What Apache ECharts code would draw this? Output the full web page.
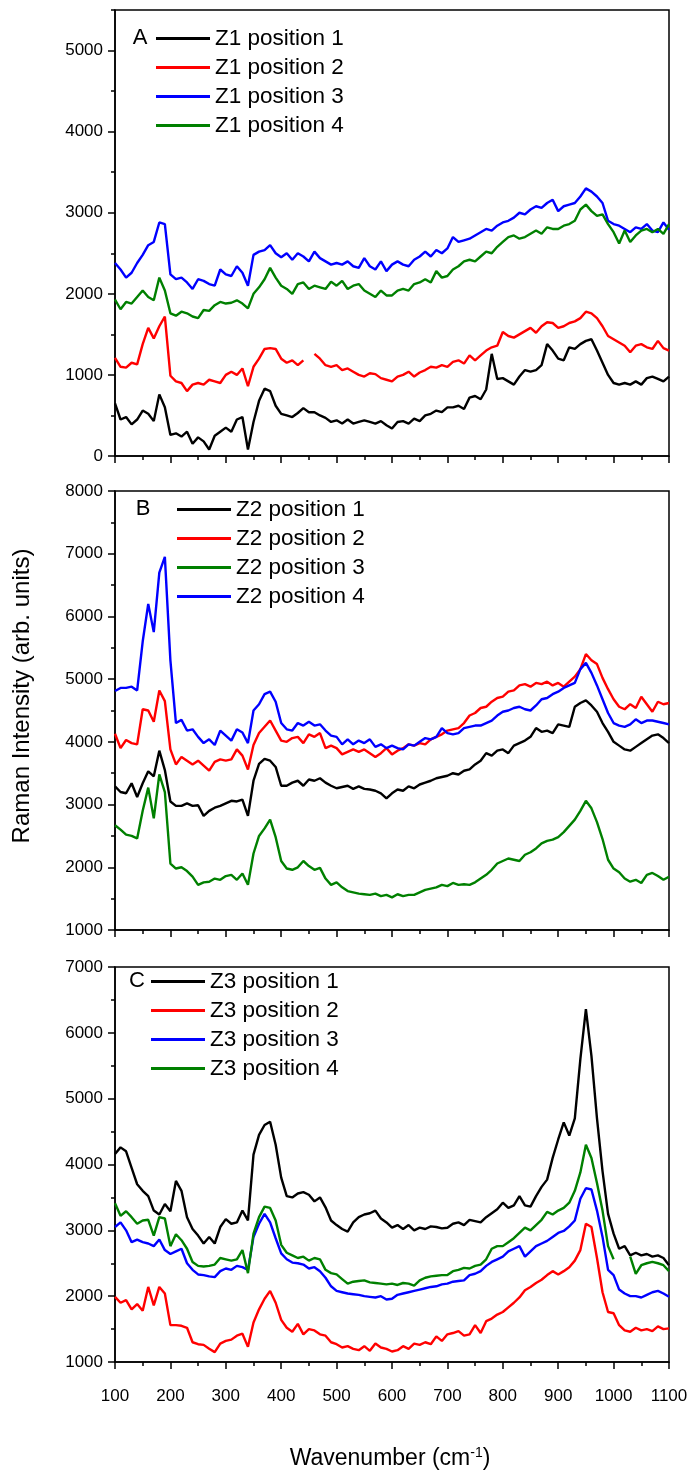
<!DOCTYPE html>
<html>
<head>
<meta charset="utf-8">
<script src="https://cdn.jsdelivr.net/npm/echarts@6/dist/echarts.min.js"></script>
<style>
  html, body { margin: 0; padding: 0; background: #fff; }
  #chart { width: 692px; height: 1479px; }
</style>
</head>
<body>
<div id="chart"></div>
<script>
// Raman spectra, one value every 10 cm-1 from 100 to 1100 cm-1
const X_START = 100;
const X_STEP = 10;

// Zone 1
const z1p1 = [
  650, 450, 480, 390, 450, 560, 520, 430, 760, 600,
  260, 280, 240, 300, 150, 230, 180, 80, 250, 300,
  350, 300, 450, 480, 80, 420, 680, 830, 800, 620,
  520, 500, 480, 530, 590, 540, 540, 500, 470, 420,
  440, 400, 450, 400, 420, 440, 420, 400, 430, 380,
  340, 420, 430, 400, 460, 430, 500, 520, 560, 540,
  600, 600, 620, 580, 720, 740, 700, 820, 1260, 950,
  960, 920, 880, 980, 1060, 1040, 1060, 1120, 1380, 1300,
  1200, 1180, 1340, 1320, 1380, 1420, 1440, 1300, 1150, 1000,
  900, 880, 900, 880, 920, 880, 960, 980, 950, 920,
  980
];
const z1p2 = [
  1210, 1100, 1090, 1150, 1130, 1380, 1580, 1450, 1600, 1720,
  990, 920, 900, 800, 880, 900, 880, 940, 920, 900,
  1000, 1040, 1000, 1080, 860, 1100, 1200, 1320, 1330, 1320,
  1200, 1150, 1180, 1120, 1180, null, 1260, 1200, 1120, 1100,
  1120, 1060, 1080, 1040, 1000, 980, 1020, 1010, 960, 940,
  920, 980, 1000, 1040, 980, 1030, 1060, 1100, 1090, 1120,
  1100, 1160, 1180, 1140, 1240, 1180, 1240, 1300, 1340, 1360,
  1530, 1480, 1460, 1500, 1540, 1580, 1520, 1600, 1650, 1640,
  1580, 1600, 1640, 1660, 1700, 1780, 1760, 1700, 1600, 1480,
  1440, 1400, 1360, 1280, 1360, 1380, 1340, 1320, 1420, 1330,
  1300
];
const z1p3 = [
  2380, 2300, 2200, 2260, 2380, 2480, 2600, 2640, 2880, 2860,
  2240, 2180, 2200, 2140, 2060, 2180, 2160, 2120, 2100, 2300,
  2240, 2220, 2340, 2260, 2100, 2480, 2520, 2540, 2600, 2500,
  2450, 2500, 2420, 2500, 2460, 2400, 2520, 2440, 2400, 2360,
  2380, 2360, 2400, 2340, 2320, 2440, 2340, 2300, 2400, 2280,
  2360, 2400, 2360, 2340, 2420, 2460, 2520, 2460, 2540, 2500,
  2560, 2700, 2640, 2660, 2680, 2720, 2760, 2800, 2780, 2840,
  2880, 2900, 2940, 3000, 2980, 3040, 3080, 3060, 3120, 3160,
  3020, 3080, 3100, 3120, 3200, 3300, 3260, 3200, 3120, 2900,
  2860, 2840, 2800, 2760, 2820, 2800, 2860, 2780, 2760, 2880,
  2790
];
const z1p4 = [
  1930, 1810, 1900, 1880, 1960, 2040, 1960, 1920, 2200, 2040,
  1760, 1730, 1780, 1760, 1720, 1700, 1800, 1790, 1860, 1900,
  1880, 1890, 1920, 1880, 1820, 2000, 2080, 2180, 2320, 2200,
  2100, 2060, 2000, 2120, 2140, 2060, 2100, 2080, 2060, 2150,
  2100, 2160, 2060, 2100, 2120, 2040, 2000, 1960, 2040, 1980,
  1980, 2040, 2060, 2040, 2120, 2140, 2180, 2140, 2280, 2200,
  2220, 2300, 2340, 2400, 2420, 2400, 2460, 2520, 2500, 2580,
  2640, 2700, 2720, 2680, 2700, 2740, 2780, 2740, 2820, 2800,
  2800, 2840, 2860, 2900, 3040, 3100, 3020, 2960, 2980, 2860,
  2760, 2620, 2780, 2640, 2720, 2780, 2800, 2760, 2800, 2740,
  2860
];

// Zone 2
const z2p1 = [
  3290, 3200, 3180, 3340, 3120, 3340, 3530, 3450, 3860, 3550,
  3050, 2980, 2980, 3020, 2980, 2990, 2820, 2900, 2950, 2980,
  3020, 3060, 3050, 3080, 2820, 3380, 3650, 3730, 3700, 3600,
  3300, 3300, 3350, 3380, 3300, 3400, 3380, 3420, 3350, 3300,
  3260, 3280, 3300, 3250, 3290, 3250, 3240, 3220, 3180, 3100,
  3180, 3240, 3220, 3290, 3260, 3320, 3350, 3380, 3420, 3440,
  3460, 3500, 3480, 3540, 3560, 3640, 3700, 3820, 3780, 3860,
  3880, 3820, 3940, 3980, 4020, 4080, 4220, 4160, 4180, 4140,
  4280, 4260, 4240, 4560, 4620, 4660, 4580, 4480, 4300, 4160,
  4000, 3940, 3880, 3860, 3920, 3980, 4040, 4100, 4120, 4060,
  3980
];
const z2p2 = [
  4130, 3900, 4030, 3980, 3960, 4520, 4500, 4320, 4820, 4650,
  3880, 3640, 3760, 3700, 3640, 3700, 3620, 3540, 3680, 3720,
  3700, 3720, 3880, 3780, 3560, 3950, 4140, 4240, 4340, 4180,
  4020, 4000, 4060, 4080, 3980, 4120, 4080, 4140, 3900, 3940,
  3900, 3800, 3840, 3880, 3840, 3880, 3820, 3760, 3820, 3900,
  3800, 3860, 3900, 3960, 3940, 3980, 3960, 4040, 4080, 4120,
  4180, 4200, 4220, 4300, 4420, 4460, 4540, 4560, 4640, 4700,
  4720, 4800, 4820, 4900, 4920, 4880, 4940, 4920, 4960, 4900,
  4940, 4880, 4960, 5040, 5160, 5400, 5300, 5240, 5020, 4840,
  4680, 4560, 4520, 4600, 4540, 4720, 4600, 4480, 4640, 4600,
  4620
];
const z2p3 = [
  2670, 2600, 2520, 2500, 2460, 2900, 3270, 2780, 3480, 3200,
  2060, 1980, 2000, 1940, 1850, 1720, 1760, 1770, 1820, 1800,
  1860, 1880, 1800, 1900, 1720, 2220, 2500, 2620, 2760, 2480,
  2100, 1980, 1960, 2000, 2100, 2020, 1960, 1990, 1820, 1720,
  1760, 1680, 1620, 1600, 1580, 1570, 1560, 1580, 1540, 1560,
  1520, 1570, 1540, 1560, 1560, 1600, 1640, 1660, 1680, 1720,
  1700, 1750, 1720, 1730, 1720, 1760, 1820, 1880, 1960, 2060,
  2100, 2140, 2120, 2100, 2200, 2240, 2300, 2380, 2420, 2440,
  2480, 2560, 2660, 2760, 2900, 3060, 2940, 2720, 2450, 2120,
  1980, 1920, 1820, 1770, 1800, 1750, 1880, 1910, 1860, 1800,
  1850
];
const z2p4 = [
  4810, 4860, 4860, 4880, 4820, 5600, 6200, 5750, 6700, 6950,
  5300, 4300, 4350, 4180, 4200, 4080, 3980, 4040, 3950, 4180,
  4100, 4020, 4200, 4150, 3980, 4500, 4600, 4760, 4800, 4640,
  4300, 4200, 4180, 4300, 4260, 4320, 4260, 4280, 4180, 4100,
  4080, 3960, 4040, 3960, 4020, 3980, 4040, 3920, 3960, 3900,
  3940, 3900, 3880, 3960, 3940, 4000, 4060, 4040, 4080, 4220,
  4140, 4120, 4140, 4220, 4240, 4260, 4260, 4300, 4340, 4420,
  4480, 4500, 4540, 4560, 4520, 4500, 4580, 4680, 4700, 4760,
  4800, 4860, 4900, 4940, 5160, 5260, 5100, 4900, 4680, 4460,
  4300, 4260, 4240, 4280, 4360, 4300, 4340, 4340, 4320, 4300,
  4280
];

// Zone 3
const z3p1 = [
  4160, 4260, 4200, 3950, 3700, 3600, 3520, 3300, 3240, 3400,
  3290, 3750, 3600, 3200, 3020, 2920, 2800, 2900, 2800, 3050,
  3170, 3100, 3120, 3300, 3150, 4150, 4450, 4600, 4650, 4300,
  3800, 3520, 3500, 3560, 3580, 3540, 3440, 3500, 3350, 3150,
  3080, 3020, 2980, 3120, 3200, 3240, 3260, 3300, 3180, 3120,
  3040, 3080, 3020, 3080, 3000, 3040, 3020, 3060, 3050, 3030,
  3040, 3100, 3120, 3080, 3160, 3140, 3120, 3200, 3260, 3320,
  3420, 3340, 3380, 3520, 3380, 3360, 3520, 3660, 3770, 4100,
  4380, 4640, 4440, 4700, 5600, 6360, 5650, 4700, 3900, 3250,
  2950, 2720, 2760, 2620, 2660, 2620, 2640, 2600, 2620, 2580,
  2470
];
const z3p2 = [
  1990, 1900, 1940, 1800, 1880, 1780, 2140, 1860, 2140, 2040,
  1560, 1560, 1550, 1520, 1300, 1270, 1260, 1200, 1150, 1280,
  1320, 1340, 1400, 1430, 1230, 1600, 1800, 1960, 2080, 1900,
  1640, 1520, 1460, 1580, 1420, 1500, 1480, 1420, 1400, 1300,
  1270, 1220, 1240, 1200, 1180, 1240, 1170, 1280, 1220, 1200,
  1160, 1180, 1240, 1200, 1280, 1260, 1300, 1270, 1390, 1320,
  1420, 1440, 1470, 1400, 1420, 1560, 1440, 1620, 1660, 1720,
  1760, 1830, 1900, 1980, 2090, 2140, 2200, 2250, 2320, 2380,
  2330, 2380, 2440, 2540, 2700, 3100, 3050, 2580, 2060, 1760,
  1740, 1560, 1480, 1460, 1520, 1480, 1500, 1470, 1540, 1500,
  1510
];
const z3p3 = [
  3050, 3120, 3000, 2820, 2860, 2820, 2800, 2760, 2860, 2700,
  2640, 2680, 2720, 2500, 2400, 2330, 2320, 2300, 2290, 2380,
  2420, 2400, 2460, 2440, 2400, 2900, 3100, 3250, 3120, 2880,
  2650, 2560, 2510, 2500, 2480, 2420, 2440, 2380, 2280, 2150,
  2080, 2060, 2040, 2030, 2020, 2000, 1990, 1980, 2000, 1950,
  1960, 2020, 2040, 2060, 2080, 2100, 2120, 2140, 2150, 2180,
  2190, 2220, 2230, 2240, 2320, 2340, 2380, 2460, 2520, 2560,
  2600, 2680, 2720, 2760, 2600, 2680, 2760, 2800, 2840, 2900,
  2960, 2990, 3060, 3150, 3480, 3640, 3620, 3300, 2900, 2400,
  2320, 2100, 2040, 2000, 2000, 1980, 2020, 2060, 2080, 2040,
  1990
];
const z3p4 = [
  3410, 3220, 3290, 3200, 3100, 3150, 3160, 2920, 3200, 3180,
  2760, 2940, 2850, 2720, 2520, 2460, 2450, 2460, 2480, 2580,
  2560, 2540, 2560, 2700, 2350, 2950, 3200, 3360, 3340, 3150,
  2780, 2660, 2620, 2580, 2600, 2540, 2580, 2560, 2400, 2350,
  2330, 2260, 2190, 2220, 2230, 2240, 2210, 2200, 2190, 2180,
  2190, 2170, 2200, 2190, 2160, 2240, 2280, 2300, 2310, 2320,
  2320, 2380, 2400, 2430, 2420, 2460, 2480, 2560, 2720, 2760,
  2760, 2820, 2880, 2960, 3040, 3000, 3080, 3160, 3280, 3240,
  3300, 3340, 3420, 3600, 3880, 4300, 4100, 3720, 3300, 2760,
  2560, null, null, 2600, 2340, 2470, 2500, 2520, 2500, 2470,
  2380
];

const FONT = '"Liberation Sans", Arial, sans-serif';
const BLACK = '#000000', RED = '#ff0000', BLUE = '#0000ff', GREEN = '#008000';

const panels = [
  {
    letter: 'A', top: 10, height: 446, yMin: 0, yMax: 5500,
    names: ['Z1 position 1', 'Z1 position 2', 'Z1 position 3', 'Z1 position 4'],
    values: [z1p1, z1p2, z1p3, z1p4],
    colors: [BLACK, RED, BLUE, GREEN],
    letterPos: [140, 38], legendLeft: 156, legendTop: 27
  },
  {
    letter: 'B', top: 491, height: 439, yMin: 1000, yMax: 8000,
    names: ['Z2 position 1', 'Z2 position 2', 'Z2 position 3', 'Z2 position 4'],
    values: [z2p1, z2p2, z2p3, z2p4],
    colors: [BLACK, RED, GREEN, BLUE],
    letterPos: [143, 509], legendLeft: 177, legendTop: 498
  },
  {
    letter: 'C', top: 967, height: 395, yMin: 1000, yMax: 7000,
    names: ['Z3 position 1', 'Z3 position 2', 'Z3 position 3', 'Z3 position 4'],
    values: [z3p1, z3p2, z3p3, z3p4],
    colors: [BLACK, RED, BLUE, GREEN],
    letterPos: [137, 981], legendLeft: 151, legendTop: 970
  }
];

function toPairs(values) {
  return values.map((v, i) => [X_START + i * X_STEP, v]);
}
const plain = (v) => String(v);

const tickLine = { color: '#000', width: 1.5 };
const labelStyle = { fontSize: 17, color: '#000', fontFamily: FONT, formatter: plain };

const grid = [], xAxis = [], yAxis = [], series = [], legend = [], graphic = [];

panels.forEach((p, gi) => {
  grid.push({
    left: 115, right: 23, top: p.top, height: p.height,
    show: true, borderColor: '#000', borderWidth: 1.5, backgroundColor: 'transparent'
  });
  xAxis.push({
    type: 'value', gridIndex: gi, position: 'bottom', min: 100, max: 1100, interval: 100,
    axisLine: { show: true, onZero: false, lineStyle: tickLine },
    axisTick: { show: true, inside: false, length: 7, lineStyle: tickLine },
    minorTick: { show: true, splitNumber: 2, length: 4, lineStyle: tickLine },
    splitLine: { show: false },
    axisLabel: Object.assign({ show: gi === 2, margin: 26 }, labelStyle)
  });

  const clean = (p.yMax - p.yMin) % 1000 === 0;
  const mainIndex = yAxis.length;
  yAxis.push({
    type: 'value', gridIndex: gi, position: 'left', min: p.yMin, max: p.yMax, interval: 1000,
    axisLine: { show: true, onZero: false, lineStyle: tickLine },
    axisTick: { show: true, inside: false, length: 7, lineStyle: tickLine },
    minorTick: { show: clean, splitNumber: 2, length: 4, lineStyle: tickLine },
    splitLine: { show: false },
    axisLabel: Object.assign({ margin: 12, showMaxLabel: clean }, labelStyle)
  });
  if (!clean) {
    // half-step ticks on their own axis so the top edge can sit at a half step
    yAxis.push({
      type: 'value', gridIndex: gi, position: 'left', offset: 0,
      min: p.yMin, max: p.yMax, interval: 500,
      axisLine: { show: false },
      axisTick: { show: true, inside: false, length: 4, lineStyle: tickLine },
      splitLine: { show: false },
      axisLabel: { show: false }
    });
  }

  p.values.forEach((vals, si) => {
    series.push({
      name: p.names[si], type: 'line', xAxisIndex: gi, yAxisIndex: mainIndex,
      data: toPairs(vals), showSymbol: false, symbol: 'none',
      connectNulls: false, smooth: false,
      lineStyle: { color: p.colors[si], width: 2.4 },
      itemStyle: { color: p.colors[si] },
      emphasis: { disabled: true }, silent: true
    });
  });

  legend.push({
    data: p.names, orient: 'vertical', left: p.legendLeft, top: p.legendTop,
    padding: 0, icon: 'rect', itemWidth: 54, itemHeight: 3, itemGap: 6,
    selectedMode: false,
    textStyle: { fontSize: 22.5, lineHeight: 23, color: '#000', fontFamily: FONT }
  });

  graphic.push({
    type: 'text', x: p.letterPos[0], y: p.letterPos[1],
    style: { text: p.letter, fontSize: 22, fontFamily: FONT, fill: '#000', align: 'center', verticalAlign: 'middle' }
  });
});

graphic.push({
  type: 'text', x: 22, y: 696, rotation: Math.PI / 2,
  style: { text: 'Raman Intensity (arb. units)', fontSize: 24, fontFamily: FONT, fill: '#000', align: 'center', verticalAlign: 'middle' }
});
graphic.push({
  type: 'text', x: 390, y: 1459,
  style: {
    text: '{t|Wavenumber (cm}{s|-1}{t|)}', fontFamily: FONT, fill: '#000', align: 'center', verticalAlign: 'middle',
    rich: {
      t: { fontSize: 23, fontFamily: FONT, fill: '#000', lineHeight: 26 },
      s: { fontSize: 14, fontFamily: FONT, fill: '#000', verticalAlign: 'top', lineHeight: 26 }
    }
  }
});

const chart = echarts.init(document.getElementById('chart'), null, { renderer: 'canvas' });
chart.setOption({
  backgroundColor: '#ffffff',
  animation: false,
  grid, xAxis, yAxis, series, legend, graphic
});
</script>
</body>
</html>
